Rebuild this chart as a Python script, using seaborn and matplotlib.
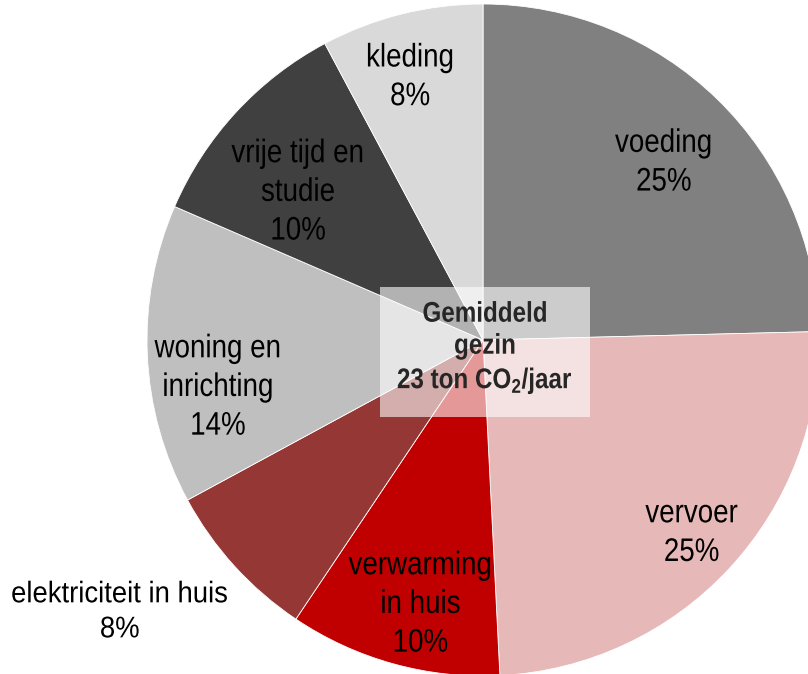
import matplotlib
matplotlib.use("Agg")
import matplotlib.pyplot as plt
import seaborn as sns
import numpy as np
from matplotlib.patches import Rectangle
from matplotlib.patheffects import AbstractPathEffect
from matplotlib.transforms import Affine2D

# =========================
# CO2 footprint of an average household
# =========================

categories = ["voeding", "vervoer", "verwarming\nin huis", "elektriciteit in huis",
              "woning en\ninrichting", "vrije tijd en\nstudie", "kleding"]
shares = [24.6, 24.6, 10.2, 7.7, 14.4, 10.7, 7.8]
pct_labels = ["25%", "25%", "10%", "8%", "14%", "10%", "8%"]
colors = ["#808080", "#E6B9B8", "#C00000", "#953735", "#BFBFBF", "#404040", "#D9D9D9"]

# label placement (fraction of radius, angle tweak in degrees, size, squeeze)
label_dist = [0.76, 0.84, 0.80, 1.345, 0.80, 0.71, 0.82]
label_dang = [-0.8, 0.5, 2, -5.8, 7, 3.5, 1.3]
label_size = [23.5, 23.5, 23.5, 21.5, 23.5, 23.5, 23.5]
label_sx = [0.85, 0.85, 0.85, 0.92, 0.85, 0.85, 0.85]


class Narrow(AbstractPathEffect):
    """squeeze each text line horizontally (no narrow font installed)"""
    def __init__(self, sx=0.85):
        super().__init__()
        self.sx = sx

    def draw_path(self, renderer, gc, tpath, affine, rgbFace=None):
        ext = tpath.get_extents(affine)
        xc = (ext.x0 + ext.x1) / 2
        affine = affine + Affine2D().translate(-xc, 0).scale(self.sx, 1).translate(xc, 0)
        renderer.draw_path(gc, tpath, affine, rgbFace)


sns.set_theme(style="white")
plt.rcParams['font.family'] = ['Liberation Sans', 'DejaVu Sans']
plt.rcParams['mathtext.fontset'] = 'custom'
plt.rcParams['mathtext.bf'] = 'Liberation Sans:bold'
plt.rcParams['mathtext.rm'] = 'Liberation Sans'

W, H = 808, 674
cx, cy, R = 483, 340, 336
fig = plt.figure(figsize=(W / 100, H / 100), dpi=100)
ax = fig.add_axes([(cx - R) / W, (H - cy - R) / H, 2 * R / W, 2 * R / H])

wedges, _ = ax.pie(shares, colors=colors, startangle=90, counterclock=False,
                   wedgeprops=dict(edgecolor="white", linewidth=0.6))
ax.set_xlim(-1, 1)
ax.set_ylim(-1, 1)
ax.set_aspect("equal")
ax.axis("off")

for w, cat, pct, d, da, fs, sx in zip(wedges, categories, pct_labels, label_dist,
                                     label_dang, label_size, label_sx):
    ang = np.deg2rad((w.theta1 + w.theta2) / 2 + da)
    ax.text(d * np.cos(ang), d * np.sin(ang) - 0.009, f"{cat}\n{pct}", ha="center",
            va="center", fontsize=fs, color="black", linespacing=1.32, clip_on=False,
            path_effects=[Narrow(sx)])

# semi-transparent box in the middle
ax.add_patch(Rectangle(((380 - cx) / R, (cy - 417) / R), 210 / R, 130 / R,
                       facecolor="white", alpha=0.6, edgecolor="none", zorder=3))
ax.text((485 - cx) / R, (cy - 349) / R, "Gemiddeld\ngezin\n23 ton CO$_\\mathbf{2}$/jaar",
        ha="center", va="center", fontsize=20.5, fontweight="bold", linespacing=1.3,
        zorder=4, path_effects=[Narrow(0.85)])

fig.savefig("out.png", dpi=100)
plt.close(fig)
